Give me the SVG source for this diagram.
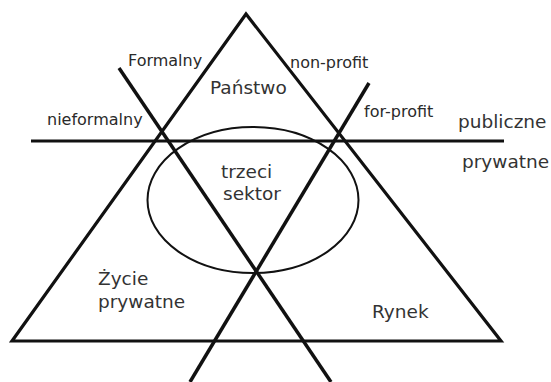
<svg xmlns="http://www.w3.org/2000/svg" width="551" height="382" viewBox="0 0 551 382">
<style>
.ln{fill:none;stroke:#111;stroke-linecap:butt;stroke-linejoin:miter}
.sm{font-family:"DejaVu Sans","Liberation Sans",sans-serif;font-size:16px;fill:#2a2a2a}
.bg{font-family:"DejaVu Sans","Liberation Sans",sans-serif;font-size:18.5px;fill:#333}
</style>
<rect width="551" height="382" fill="#fff"/>
<g id="shapes">
<polygon id="triangle" class="ln" stroke-width="3.2" points="246,14 12,341 501,341"/>
<ellipse id="third-sector" class="ln" stroke-width="2" cx="253" cy="200" rx="105.5" ry="73"/>
<line id="public-private" class="ln" stroke-width="3" x1="31" y1="141" x2="504" y2="141"/>
<line id="formal-axis" class="ln" stroke-width="3.5" x1="119" y1="68" x2="331" y2="382"/>
<line id="profit-axis" class="ln" stroke-width="3.5" x1="369" y1="83" x2="190" y2="382"/>
</g>
<g id="labels">
<text class="sm" x="128" y="66">Formalny</text>
<text class="sm" x="290" y="68">non-profit</text>
<text class="sm" x="47" y="125">nieformalny</text>
<text class="sm" x="364" y="117">for-profit</text>
<text class="bg" x="210" y="94">Państwo</text>
<text class="bg" x="458" y="128">publiczne</text>
<text class="bg" x="462" y="168">prywatne</text>
<text class="bg" x="221" y="178">trzeci</text>
<text class="bg" x="223" y="200">sektor</text>
<text class="bg" x="98" y="285">Życie</text>
<text class="bg" x="98" y="308">prywatne</text>
<text class="bg" x="372" y="318">Rynek</text>
</g>
</svg>
